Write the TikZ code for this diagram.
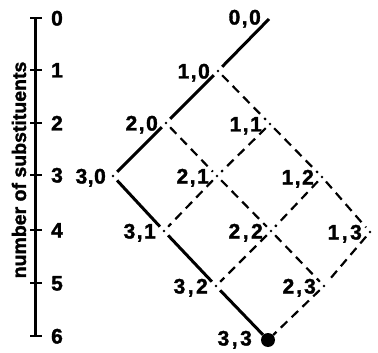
\documentclass[tikz,border=0pt]{standalone}
\usepackage{fontspec}
\setmainfont{Liberation Sans}[BoldFeatures={FakeBold=1.6}]
\begin{document}
\begin{tikzpicture}[x=1pt,y=-1pt,
  lab/.style={anchor=east,inner sep=0pt,font=\fontsize{21}{21}\selectfont\bfseries,text height=15pt,text depth=0pt},
  ax/.style={inner sep=0pt,font=\fontsize{21}{21}\selectfont\bfseries,text height=15pt,text depth=0pt},
  solidl/.style={line width=3pt,shorten >=6pt,shorten <=6pt},
  dashl/.style={line width=2.2pt,dash pattern=on 9pt off 6pt,shorten >=6pt,shorten <=6pt},
  junc/.style={circle,fill=black,inner sep=0pt,minimum size=2.8pt}]
\useasboundingbox (0,0) rectangle (378,353);
% lattice points
\coordinate (p00) at (269,19);
\coordinate (p10) at (218,71);
\coordinate (p20) at (166,123);
\coordinate (p30) at (113,176);
\coordinate (p11) at (270,124);
\coordinate (p21) at (217,176);
\coordinate (p31) at (164,231);
\coordinate (p12) at (322,177);
\coordinate (p22) at (271,231);
\coordinate (p32) at (216,286);
\coordinate (p13) at (370,232);
\coordinate (p23) at (324,286);
\coordinate (p33) at (268,340);
% junction dots
\foreach \p in {p10,p20,p30,p11,p21,p31,p12,p22,p32,p13,p23}
  \node[junc] at (\p) {};
\node[circle,fill=black,inner sep=0pt,minimum size=14pt] (dot) at (p33) {};
% solid path
\draw[line width=3pt,shorten >=6pt] (p00) -- (p10);
\draw[solidl] (p10) -- (p20);
\draw[solidl] (p20) -- (p30);
\draw[solidl] (p30) -- (p31);
\draw[solidl] (p31) -- (p32);
\draw[line width=3pt,shorten <=6pt] (p32) -- (dot);
% dashed lattice
\draw[dashl] (p10) -- (p11);
\draw[dashl] (p11) -- (p12);
\draw[dashl] (p12) -- (p13);
\draw[dashl] (p20) -- (p21);
\draw[dashl] (p21) -- (p22);
\draw[dashl] (p22) -- (p23);
\draw[dashl] (p11) -- (p21);
\draw[dashl] (p21) -- (p31);
\draw[dashl] (p12) -- (p22);
\draw[dashl] (p22) -- (p32);
\draw[dashl] (p13) -- (p23);
\draw[dashl,shorten >=0pt] (p23) -- (dot);
% labels
\node[lab] (l00) at ([xshift=-8pt,yshift=2pt]p00) {0\kern1.5pt,\kern1.5pt0};
\node[lab] (l10) at ([xshift=-8pt]p10) {1\kern1.5pt,\kern1.5pt0};
\node[lab] (l20) at ([xshift=-8pt]p20) {2\kern1.5pt,\kern1.5pt0};
\node[lab] (l30) at ([xshift=-7pt]p30) {3\kern0.5pt,\kern0.5pt0};
\node[lab] (l11) at ([xshift=-8pt]p11) {1\kern1.5pt,\kern1.5pt1};
\node[lab] (l21) at ([xshift=-8pt]p21) {2\kern1.5pt,\kern1.5pt1};
\node[lab] (l31) at ([xshift=-8pt]p31) {3\kern1.5pt,\kern1.5pt1};
\node[lab] (l12) at ([xshift=-8pt]p12) {1\kern1.5pt,\kern1.5pt2};
\node[lab] (l22) at ([xshift=-8pt]p22) {2\kern2.5pt,\kern2.5pt2};
\node[lab] (l32) at ([xshift=-8pt]p32) {3\kern2.5pt,\kern2.5pt2};
\node[lab] (l13) at ([xshift=-8pt]p13) {1\kern2.5pt,\kern2.5pt3};
\node[lab] (l23) at ([xshift=-8pt]p23) {2\kern2pt,\kern2pt3};
\node[lab] (l33) at ([xshift=-16pt,yshift=2pt]p33) {3\kern2.5pt,\kern2.5pt3};
% axis
\coordinate (a0) at (35.5,18);
\coordinate (a6) at (35.5,336);
\draw[line width=2.4pt] (a0) -- (a6);
\foreach \i/\y in {0/18,1/70,2/123,3/175,4/230,5/283,6/336}{
  \draw[line width=2.4pt] (30,\y) -- (42,\y);
  \node[ax] (t\i) at (57,\y) {\i};
}
\node[rotate=90,inner sep=0pt,font=\fontsize{19.5}{19.5}\selectfont\bfseries] (axl) at (19,170) {number of substituents};
\end{tikzpicture}
\end{document}
